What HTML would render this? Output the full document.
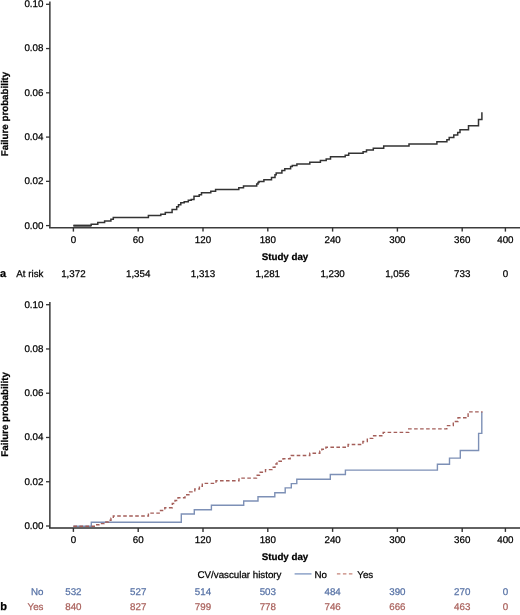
<!DOCTYPE html>
<html><head><meta charset="utf-8"><title>Failure probability</title>
<style>
html,body{margin:0;padding:0;background:#fff;}
body{width:520px;height:615px;overflow:hidden;}
svg{display:block;filter:blur(0.3px);}
text{font-family:"Liberation Sans",sans-serif;font-size:9.75px;fill:#000;stroke:#000;stroke-width:0.25px;text-rendering:geometricPrecision;}
</style></head>
<body>
<svg width="520" height="615" viewBox="0 0 520 615">
<line x1="49.85" y1="1.50" x2="49.85" y2="227.70" stroke="#505050" stroke-width="1.7"/>
<line x1="49" y1="227.70" x2="520" y2="227.70" stroke="#3c3c3c" stroke-width="1.5"/>
<line x1="46" y1="225.60" x2="50" y2="225.60" stroke="#333" stroke-width="1.3"/>
<text x="43.4" y="228.50" text-anchor="end">0.00</text>
<line x1="46" y1="181.34" x2="50" y2="181.34" stroke="#333" stroke-width="1.3"/>
<text x="43.4" y="184.24" text-anchor="end">0.02</text>
<line x1="46" y1="137.08" x2="50" y2="137.08" stroke="#333" stroke-width="1.3"/>
<text x="43.4" y="139.98" text-anchor="end">0.04</text>
<line x1="46" y1="92.82" x2="50" y2="92.82" stroke="#333" stroke-width="1.3"/>
<text x="43.4" y="95.72" text-anchor="end">0.06</text>
<line x1="46" y1="48.56" x2="50" y2="48.56" stroke="#333" stroke-width="1.3"/>
<text x="43.4" y="51.46" text-anchor="end">0.08</text>
<line x1="46" y1="4.30" x2="50" y2="4.30" stroke="#333" stroke-width="1.3"/>
<text x="43.4" y="7.20" text-anchor="end">0.10</text>
<line x1="73.40" y1="227.70" x2="73.40" y2="231.60" stroke="#333" stroke-width="1.4"/>
<text x="73.40" y="242.60" text-anchor="middle">0</text>
<line x1="138.20" y1="227.70" x2="138.20" y2="231.60" stroke="#333" stroke-width="1.4"/>
<text x="138.20" y="242.60" text-anchor="middle">60</text>
<line x1="203.00" y1="227.70" x2="203.00" y2="231.60" stroke="#333" stroke-width="1.4"/>
<text x="203.00" y="242.60" text-anchor="middle">120</text>
<line x1="267.80" y1="227.70" x2="267.80" y2="231.60" stroke="#333" stroke-width="1.4"/>
<text x="267.80" y="242.60" text-anchor="middle">180</text>
<line x1="332.60" y1="227.70" x2="332.60" y2="231.60" stroke="#333" stroke-width="1.4"/>
<text x="332.60" y="242.60" text-anchor="middle">240</text>
<line x1="397.40" y1="227.70" x2="397.40" y2="231.60" stroke="#333" stroke-width="1.4"/>
<text x="397.40" y="242.60" text-anchor="middle">300</text>
<line x1="462.20" y1="227.70" x2="462.20" y2="231.60" stroke="#333" stroke-width="1.4"/>
<text x="462.20" y="242.60" text-anchor="middle">360</text>
<line x1="505.40" y1="227.70" x2="505.40" y2="231.60" stroke="#333" stroke-width="1.4"/>
<text x="505.40" y="242.60" text-anchor="middle">400</text>
<text x="285" y="259.80" text-anchor="middle" font-weight="bold">Study day</text>
<text transform="translate(7.7,114.00) rotate(-90)" text-anchor="middle" font-weight="bold">Failure probability</text>
<line x1="49.85" y1="301.90" x2="49.85" y2="528.00" stroke="#505050" stroke-width="1.7"/>
<line x1="49" y1="528.00" x2="520" y2="528.00" stroke="#2e2e2e" stroke-width="1.6"/>
<line x1="46" y1="526.00" x2="50" y2="526.00" stroke="#333" stroke-width="1.3"/>
<text x="43.4" y="528.90" text-anchor="end">0.00</text>
<line x1="46" y1="481.74" x2="50" y2="481.74" stroke="#333" stroke-width="1.3"/>
<text x="43.4" y="484.64" text-anchor="end">0.02</text>
<line x1="46" y1="437.48" x2="50" y2="437.48" stroke="#333" stroke-width="1.3"/>
<text x="43.4" y="440.38" text-anchor="end">0.04</text>
<line x1="46" y1="393.22" x2="50" y2="393.22" stroke="#333" stroke-width="1.3"/>
<text x="43.4" y="396.12" text-anchor="end">0.06</text>
<line x1="46" y1="348.96" x2="50" y2="348.96" stroke="#333" stroke-width="1.3"/>
<text x="43.4" y="351.86" text-anchor="end">0.08</text>
<line x1="46" y1="304.70" x2="50" y2="304.70" stroke="#333" stroke-width="1.3"/>
<text x="43.4" y="307.60" text-anchor="end">0.10</text>
<line x1="73.40" y1="528.00" x2="73.40" y2="531.90" stroke="#333" stroke-width="1.4"/>
<text x="73.40" y="543.00" text-anchor="middle">0</text>
<line x1="138.20" y1="528.00" x2="138.20" y2="531.90" stroke="#333" stroke-width="1.4"/>
<text x="138.20" y="543.00" text-anchor="middle">60</text>
<line x1="203.00" y1="528.00" x2="203.00" y2="531.90" stroke="#333" stroke-width="1.4"/>
<text x="203.00" y="543.00" text-anchor="middle">120</text>
<line x1="267.80" y1="528.00" x2="267.80" y2="531.90" stroke="#333" stroke-width="1.4"/>
<text x="267.80" y="543.00" text-anchor="middle">180</text>
<line x1="332.60" y1="528.00" x2="332.60" y2="531.90" stroke="#333" stroke-width="1.4"/>
<text x="332.60" y="543.00" text-anchor="middle">240</text>
<line x1="397.40" y1="528.00" x2="397.40" y2="531.90" stroke="#333" stroke-width="1.4"/>
<text x="397.40" y="543.00" text-anchor="middle">300</text>
<line x1="462.20" y1="528.00" x2="462.20" y2="531.90" stroke="#333" stroke-width="1.4"/>
<text x="462.20" y="543.00" text-anchor="middle">360</text>
<line x1="505.40" y1="528.00" x2="505.40" y2="531.90" stroke="#333" stroke-width="1.4"/>
<text x="505.40" y="543.00" text-anchor="middle">400</text>
<text x="285" y="560.20" text-anchor="middle" font-weight="bold">Study day</text>
<text transform="translate(7.7,414.40) rotate(-90)" text-anchor="middle" font-weight="bold">Failure probability</text>
<line x1="73.4" y1="225.75" x2="91.2" y2="225.75" stroke="#555" stroke-width="2"/>
<path d="M73.4,225.6 H91.2 V224.3 H97.8 V222.6 H104.6 V220.9 H110.9 V219.2 H113.3 V217.6 H148.4 V215.6 H160.8 V214.2 H165.3 V212.5 H172.1 V209.4 H176.7 V206.8 H178.5 V204.8 H180.8 V202.8 H184.2 V201.7 H188.3 V200.2 H191.2 V199.4 H194.0 V196.2 H199.2 V194.8 H201.5 V192.7 H210.8 V191.3 H215.6 V189.6 H238.8 V187.8 H243.5 V186.1 H256.7 V184.0 H258.0 V182.5 H259.0 V181.4 H263.9 V179.7 H271.5 V177.5 H275.0 V174.8 H276.2 V172.9 H281.9 V170.6 H284.8 V168.8 H290.6 V166.5 H292.3 V165.6 H296.9 V164.0 H309.8 V162.3 H320.4 V160.6 H326.2 V158.9 H330.5 V156.7 H345.2 V155.2 H348.7 V153.2 H363.1 V151.7 H366.5 V150.1 H373.3 V148.3 H383.7 V146.1 H409.0 V144.1 H436.9 V141.8 H446.9 V139.7 H449.2 V137.4 H453.8 V135.1 H457.7 V132.6 H460.0 V129.7 H468.5 V125.8 H478.5 V119.6 H481.9 V112.3" fill="none" stroke="#333" stroke-width="1.5"/>
<path d="M73.4,526.2 H91.3 V522.3 H181.3 V514.0 H194.3 V509.7 H211.4 V505.3 H243.7 V501.0 H258.0 V496.7 H274.8 V492.8 H285.2 V487.9 H291.3 V483.6 H296.8 V479.2 H330.3 V474.5 H345.4 V470.1 H437.4 V464.3 H449.5 V458.1 H460.3 V450.5 H478.6 V433.4 H481.8 V412.0" fill="none" stroke="#7d90b6" stroke-width="1.4"/>
<path d="M73.4,526.2 H96.0 V524.8 H99.0 V523.6 H104.0 V522.0 H108.5 V520.3 H111.0 V518.3 H113.3 V516.0 H148.4 V513.1 H160.5 V510.5 H164.8 V507.7 H172.3 V503.5 H175.0 V500.5 H178.0 V497.7 H185.0 V494.8 H189.6 V491.9 H194.8 V489.0 H199.4 V486.2 H202.3 V483.4 H216.0 V480.8 H239.0 V478.1 H256.5 V475.3 H259.5 V472.3 H265.5 V469.6 H272.0 V467.3 H275.0 V464.0 H277.0 V461.2 H283.0 V458.7 H290.2 V456.7 H291.3 V455.5 H309.8 V453.3 H319.8 V451.2 H321.8 V449.2 H325.9 V447.2 H348.1 V444.5 H362.9 V441.5 H367.3 V438.4 H372.7 V435.7 H383.2 V432.4 H408.7 V428.9 H446.8 V425.6 H453.3 V421.5 H458.0 V417.8 H468.1 V411.9 H482.6" fill="none" stroke="#a45e59" stroke-width="1.4" stroke-dasharray="3.6 2.4"/>
<text x="0.1" y="276.6" font-weight="bold" style="font-size:11px;fill:#000;stroke:#000">a</text>
<text x="16.3" y="277">At risk</text>
<text x="73.40" y="277" text-anchor="middle">1,372</text>
<text x="138.20" y="277" text-anchor="middle">1,354</text>
<text x="203.00" y="277" text-anchor="middle">1,313</text>
<text x="267.80" y="277" text-anchor="middle">1,281</text>
<text x="332.60" y="277" text-anchor="middle">1,230</text>
<text x="397.40" y="277" text-anchor="middle">1,056</text>
<text x="462.20" y="277" text-anchor="middle">733</text>
<text x="505.40" y="277" text-anchor="middle">0</text>
<text x="197.5" y="577.5">CV/vascular history</text>
<line x1="294.6" y1="573.9" x2="311.5" y2="573.9" stroke="#7d95c0" stroke-width="1.3"/>
<text x="314.5" y="577.5">No</text>
<line x1="336.9" y1="573.9" x2="354" y2="573.9" stroke="#c58479" stroke-width="1.3" stroke-dasharray="3.5 2.5"/>
<text x="357.3" y="577.5">Yes</text>
<text x="43.5" y="595.4" text-anchor="end" style="fill:#5873a6;stroke:#5873a6">No</text>
<text x="43.5" y="609.9" text-anchor="end" style="fill:#aa625d;stroke:#aa625d">Yes</text>
<text x="0.3" y="609.6" font-weight="bold" style="font-size:11px;fill:#000;stroke:#000">b</text>
<text x="73.40" y="595.4" text-anchor="middle" style="fill:#5873a6;stroke:#5873a6">532</text>
<text x="73.40" y="609.9" text-anchor="middle" style="fill:#aa625d;stroke:#aa625d">840</text>
<text x="138.20" y="595.4" text-anchor="middle" style="fill:#5873a6;stroke:#5873a6">527</text>
<text x="138.20" y="609.9" text-anchor="middle" style="fill:#aa625d;stroke:#aa625d">827</text>
<text x="203.00" y="595.4" text-anchor="middle" style="fill:#5873a6;stroke:#5873a6">514</text>
<text x="203.00" y="609.9" text-anchor="middle" style="fill:#aa625d;stroke:#aa625d">799</text>
<text x="267.80" y="595.4" text-anchor="middle" style="fill:#5873a6;stroke:#5873a6">503</text>
<text x="267.80" y="609.9" text-anchor="middle" style="fill:#aa625d;stroke:#aa625d">778</text>
<text x="332.60" y="595.4" text-anchor="middle" style="fill:#5873a6;stroke:#5873a6">484</text>
<text x="332.60" y="609.9" text-anchor="middle" style="fill:#aa625d;stroke:#aa625d">746</text>
<text x="397.40" y="595.4" text-anchor="middle" style="fill:#5873a6;stroke:#5873a6">390</text>
<text x="397.40" y="609.9" text-anchor="middle" style="fill:#aa625d;stroke:#aa625d">666</text>
<text x="462.20" y="595.4" text-anchor="middle" style="fill:#5873a6;stroke:#5873a6">270</text>
<text x="462.20" y="609.9" text-anchor="middle" style="fill:#aa625d;stroke:#aa625d">463</text>
<text x="505.40" y="595.4" text-anchor="middle" style="fill:#5873a6;stroke:#5873a6">0</text>
<text x="505.40" y="609.9" text-anchor="middle" style="fill:#aa625d;stroke:#aa625d">0</text>
</svg>
</body></html>
